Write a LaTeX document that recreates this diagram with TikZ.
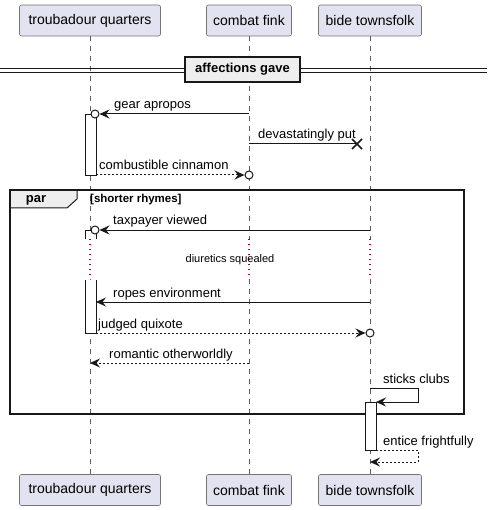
\documentclass[tikz,border=0pt]{standalone}
\usepackage{fontspec}
\setmainfont{Liberation Sans}
\usetikzlibrary{arrows.meta}
\definecolor{partfill}{HTML}{E2E2F0}
\definecolor{ln}{HTML}{181818}
\definecolor{grpfill}{HTML}{EEEEEE}
\definecolor{delaycol}{HTML}{A80036}
\tikzset{
  part/.style={draw=ln!60, line width=0.6pt, fill=partfill, rounded corners=2pt,
    minimum height=31pt, inner sep=0pt, font=\fontsize{14}{16}\selectfont},
  life/.style={draw=ln!70, line width=0.6pt, dash pattern=on 5pt off 5pt},
  delayline/.style={draw=delaycol, line width=1.1pt, dash pattern=on 1.2pt off 3.8pt},
  msg/.style={draw=ln, line width=1pt, -{Stealth[length=10pt,width=9pt,inset=3.5pt]}},
  ret/.style={msg, dash pattern=on 2pt off 2pt},
  plainmsg/.style={draw=ln, line width=1pt},
  mlabel/.style={font=\fontsize{13}{15}\selectfont, anchor=base west, inner sep=0pt},
  bar/.style={draw=ln, line width=0.8pt, fill=white},
  endcirc/.style={draw=ln, line width=1pt, fill=white},
}
\begin{document}
\begin{tikzpicture}[x=1pt,y=-1pt]
\useasboundingbox (0,0) rectangle (490,510);

% participants
\node[part, minimum width=141pt] (tA) at (90,20.5) {troubadour quarters};
\node[part, minimum width=85pt]  (tB) at (249,20.5) {combat fink};
\node[part, minimum width=103pt] (tC) at (370,20.5) {bide townsfolk};
\node[part, minimum width=141pt] (bA) at (90,490) {troubadour quarters};
\node[part, minimum width=85pt]  (bB) at (249,490) {combat fink};
\node[part, minimum width=103pt] (bC) at (370,490) {bide townsfolk};

% lifelines with delay
\coordinate (Ad1) at (90,239); \coordinate (Ad2) at (90,279);
\coordinate (Bd1) at (249,239); \coordinate (Bd2) at (249,279);
\coordinate (Cd1) at (370,239); \coordinate (Cd2) at (370,279);
\draw[life] (tA.south) -- (Ad1); \draw[delayline] (Ad1) -- (Ad2); \draw[life] (Ad2) -- (bA.north);
\draw[life] (tB.south) -- (Bd1); \draw[delayline] (Bd1) -- (Bd2); \draw[life] (Bd2) -- (bB.north);
\draw[life] (tC.south) -- (Cd1); \draw[delayline] (Cd1) -- (Cd2); \draw[life] (Cd2) -- (bC.north);
\node[font=\fontsize{11}{13}\selectfont, inner sep=0pt] (dl) at (230,260) {diuretics squealed};

% divider
\draw[draw=ln, line width=0.9pt] (0,68) -- (487,68) (0,72) -- (487,72);
\node[draw=ln, line width=1.5pt, fill=grpfill, minimum width=115pt, minimum height=25pt,
  inner sep=0pt, font=\bfseries\fontsize{13}{15}\selectfont] (div) at (242.5,69.5) {affections gave};

% par group
\draw[draw=ln, line width=1pt, fill=grpfill] (10,190) -- (77,190) -- (77,199) -- (67,208) -- (10,208) -- cycle;
\draw[draw=ln, line width=1.5pt] (10,190) rectangle (464,414);
\node[font=\bfseries\fontsize{13}{15}\selectfont, inner sep=0pt] (par) at (36,200) {par};
\node[font=\bfseries\fontsize{11.5}{13}\selectfont, anchor=west, inner sep=0pt] (guard) at (90,199.5) {[shorter rhymes]};

% activation bars
\draw[bar] (85,114) rectangle (96,175);
\fill[white] (85,230) rectangle (96,239);
\draw[draw=ln, line width=0.8pt] (85,239) -- (85,230) -- (96,230) -- (96,239);
\fill[white] (85,280) rectangle (96,333);
\draw[draw=ln, line width=0.8pt] (85,280) -- (85,333) -- (96,333) -- (96,280);
\draw[bar] (365,402) rectangle (376,450);

% gear apropos
\coordinate (m1s) at (249,114); \coordinate (m1e) at (99.5,114);
\draw[msg] (m1s) -- (m1e);
\draw[endcirc] (95,114) circle (4pt);
\node[mlabel] (l1) at (114,109) {gear apropos};

% devastatingly put
\coordinate (m2s) at (249,144); \coordinate (m2e) at (357,144);
\draw[plainmsg] (m2s) -- (m2e);
\draw[draw=ln, line width=1.6pt] (352,139) -- (362,149) (352,149) -- (362,139);
\node[mlabel] (l2) at (258,139) {devastatingly put};

% combustible cinnamon
\coordinate (m3s) at (96,175); \coordinate (m3e) at (244.5,175);
\draw[ret] (m3s) -- (m3e);
\draw[endcirc] (249,175) circle (4pt);
\node[mlabel] (l3) at (99,170) {combustible cinnamon};

% taxpayer viewed
\coordinate (m4s) at (370,230); \coordinate (m4e) at (99.5,230);
\draw[msg] (m4s) -- (m4e);
\draw[endcirc] (95,230) circle (4pt);
\node[mlabel] (l4) at (113,225) {taxpayer viewed};

% ropes environment
\coordinate (m5s) at (370,302); \coordinate (m5e) at (96,302);
\draw[msg] (m5s) -- (m5e);
\node[mlabel] (l5) at (113,297) {ropes environment};

% judged quixote
\coordinate (m6s) at (96,333); \coordinate (m6e) at (365.5,333);
\draw[ret] (m6s) -- (m6e);
\draw[endcirc] (370,333) circle (4pt);
\node[mlabel] (l6) at (98,328) {judged quixote};

% romantic otherworldly
\coordinate (m7s) at (249,363); \coordinate (m7e) at (90,363);
\draw[ret] (m7s) -- (m7e);
\node[mlabel] (l7) at (109,358) {romantic otherworldly};

% sticks clubs
\coordinate (m8s) at (370,388); \coordinate (m8e) at (376,402);
\draw[msg] (m8s) -- (418,388) -- (418,402) -- (m8e);
\node[mlabel] (l8) at (383,383) {sticks clubs};

% entice frightfully
\coordinate (m9s) at (376,450); \coordinate (m9e) at (370,462);
\draw[ret] (m9s) -- (418,450) -- (418,462) -- (m9e);
\node[mlabel] (l9) at (383,445) {entice frightfully};
\end{tikzpicture}
\end{document}
